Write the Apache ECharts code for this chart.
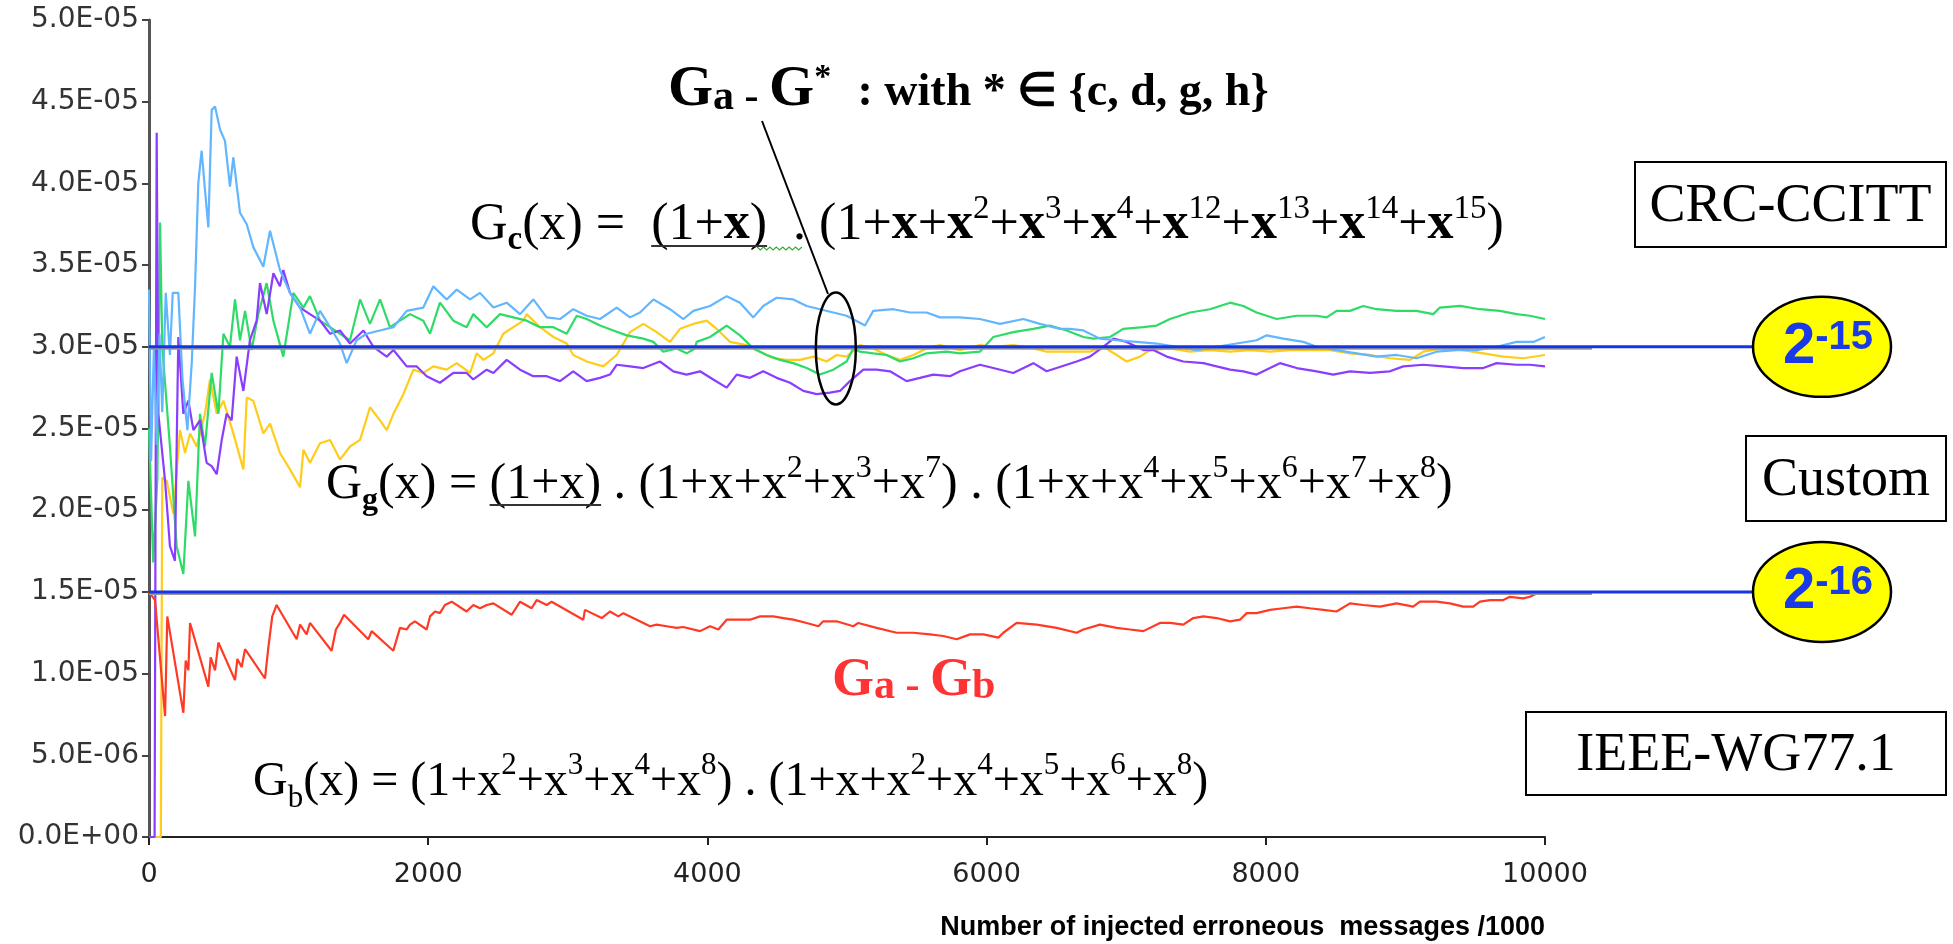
<!DOCTYPE html>
<html>
<head>
<meta charset="utf-8">
<script src="https://cdn.jsdelivr.net/npm/echarts@6/dist/echarts.min.js"></script>
<style>
  html, body { margin: 0; padding: 0; background: #fff; }
  #chart { width: 1953px; height: 944px; }
</style>
</head>
<body>
<div id="chart"></div>
<script>
// values are in units of 1E-05
var UNIT = 1e-5;
var xTicks = [0, 10000, 2000];   // min, max, interval
var yTicks = [0, 5, 0.5];

var refLevels = [3.0, 1.5];
var refLabels = ['-15', '-16'];

var blueData = [[0,3.35],[15,2.3],[35,3.0],[55,2.4],[75,3.08],[95,2.6],[120,3.33],[150,2.95],[170,3.33],[210,3.33],[240,2.8],[275,2.49],[306,2.9],[330,3.37],[353,4.0],[377,4.2],[401,3.96],[425,3.73],[449,4.45],[473,4.47],[509,4.33],[544,4.26],[580,3.98],[604,4.16],[652,3.82],[700,3.75],[747,3.61],[819,3.49],[867,3.71],[938,3.47],[1010,3.33],[1082,3.24],[1153,3.08],[1225,3.22],[1297,3.12],[1368,3.02],[1416,2.9],[1487,3.04],[1559,3.08],[1655,3.1],[1751,3.12],[1846,3.22],[1965,3.24],[2037,3.37],[2132,3.29],[2204,3.35],[2300,3.29],[2371,3.33],[2467,3.24],[2562,3.27],[2658,3.2],[2753,3.29],[2849,3.18],[2944,3.17],[3039,3.23],[3135,3.19],[3231,3.17],[3350,3.24],[3446,3.18],[3517,3.21],[3613,3.29],[3732,3.23],[3828,3.17],[3899,3.22],[4019,3.25],[4138,3.31],[4233,3.27],[4329,3.18],[4400,3.25],[4496,3.30],[4615,3.29],[4711,3.25],[4806,3.23],[4902,3.21],[4997,3.19],[5129,3.13],[5188,3.22],[5332,3.23],[5451,3.21],[5570,3.21],[5666,3.18],[5809,3.18],[5952,3.17],[6096,3.14],[6263,3.17],[6382,3.14],[6526,3.11],[6597,3.11],[6693,3.10],[6812,3.05],[6932,3.04],[7075,3.03],[7218,3.02],[7361,3.0],[7505,2.98],[7648,3.0],[7791,3.02],[7934,3.04],[8006,3.07],[8125,3.05],[8269,3.03],[8364,3.0],[8507,2.98],[8650,2.96],[8794,2.94],[8937,2.95],[9080,2.93],[9223,2.97],[9367,2.98],[9510,2.98],[9653,3.0],[9796,3.03],[9916,3.03],[10000,3.06]];

var greenData = [[0,2.5],[30,1.68],[60,2.2],[79,3.76],[95,3.0],[150,2.39],[198,1.78],[246,1.61],[282,2.18],[330,1.84],[365,2.59],[401,2.39],[449,2.84],[497,2.59],[533,3.08],[580,3.0],[616,3.29],[652,3.04],[688,3.22],[735,2.98],[783,3.2],[843,3.39],[891,3.16],[962,2.94],[1034,3.33],[1106,3.24],[1153,3.31],[1225,3.16],[1297,3.12],[1368,3.08],[1440,3.04],[1512,3.29],[1583,3.14],[1655,3.29],[1726,3.12],[1798,3.16],[1870,3.2],[1965,3.16],[2013,3.08],[2084,3.27],[2180,3.16],[2275,3.12],[2323,3.2],[2419,3.12],[2514,3.2],[2610,3.18],[2705,3.16],[2801,3.12],[2897,3.12],[2992,3.08],[3064,3.19],[3135,3.17],[3231,3.13],[3326,3.10],[3422,3.07],[3541,3.05],[3613,3.03],[3684,2.97],[3780,2.99],[3851,2.96],[3911,2.99],[3923,3.03],[4019,3.06],[4138,3.13],[4233,3.07],[4329,2.99],[4424,2.95],[4520,2.92],[4615,2.90],[4711,2.87],[4806,2.83],[4902,2.86],[4997,2.91],[5045,2.99],[5093,2.97],[5188,2.96],[5284,2.95],[5380,2.91],[5475,2.93],[5570,2.96],[5714,2.97],[5809,2.96],[5952,2.97],[6048,3.06],[6191,3.09],[6335,3.11],[6454,3.13],[6573,3.10],[6693,3.06],[6765,3.05],[6884,3.06],[6979,3.11],[7123,3.12],[7218,3.13],[7314,3.17],[7457,3.21],[7600,3.23],[7744,3.27],[7839,3.25],[7934,3.21],[8078,3.17],[8221,3.19],[8364,3.19],[8436,3.18],[8507,3.22],[8603,3.22],[8698,3.25],[8794,3.23],[8937,3.22],[9080,3.22],[9200,3.2],[9247,3.24],[9391,3.25],[9534,3.23],[9677,3.22],[9796,3.2],[9892,3.19],[10000,3.17]];

var yellowData = [[0,0],[85,0],[95,2.2],[127,2.18],[174,1.98],[222,2.49],[258,2.35],[294,2.47],[342,2.39],[401,2.59],[437,2.8],[485,2.59],[533,2.67],[604,2.47],[676,2.25],[700,2.69],[747,2.67],[819,2.47],[867,2.53],[938,2.35],[1010,2.25],[1082,2.14],[1106,2.37],[1153,2.29],[1225,2.41],[1297,2.43],[1368,2.31],[1440,2.39],[1512,2.43],[1583,2.63],[1655,2.55],[1703,2.49],[1751,2.59],[1822,2.71],[1894,2.86],[1965,2.84],[2037,2.88],[2132,2.86],[2204,2.9],[2300,2.84],[2347,2.96],[2395,2.92],[2467,2.96],[2538,3.08],[2610,3.12],[2682,3.16],[2705,3.2],[2801,3.12],[2897,3.06],[2992,3.02],[3039,2.95],[3135,2.91],[3254,2.88],[3350,2.95],[3446,3.09],[3541,3.14],[3637,3.09],[3732,3.03],[3804,3.11],[3899,3.14],[3995,3.16],[4066,3.11],[4162,3.03],[4281,3.01],[4377,2.97],[4472,2.93],[4568,2.92],[4663,2.92],[4759,2.94],[4854,2.91],[4926,2.95],[4997,2.94],[5093,3.01],[5188,2.99],[5284,2.95],[5380,2.92],[5475,2.95],[5570,2.99],[5666,3.01],[5809,2.98],[5952,3.01],[6048,3.0],[6191,3.01],[6335,2.99],[6430,2.97],[6597,2.97],[6740,2.97],[6836,3.0],[6932,2.95],[7003,2.91],[7099,2.94],[7170,2.98],[7314,2.99],[7457,2.97],[7600,2.98],[7744,2.97],[7886,2.98],[8030,2.97],[8173,2.98],[8316,2.98],[8460,2.98],[8603,2.96],[8746,2.95],[8889,2.93],[9033,2.92],[9128,2.97],[9271,2.99],[9414,2.98],[9558,2.96],[9701,2.94],[9844,2.93],[10000,2.95]];

var purpleData = [[0,0],[40,0],[55,4.31],[67,2.59],[115,2.18],[150,1.78],[186,1.69],[210,3.06],[246,2.59],[282,2.67],[318,2.49],[365,2.55],[413,2.29],[449,2.27],[485,2.22],[521,2.43],[556,2.59],[592,2.55],[628,2.94],[676,2.73],[723,3.04],[771,3.16],[795,3.39],[843,3.2],[891,3.45],[938,3.37],[962,3.47],[1010,3.33],[1082,3.24],[1153,3.2],[1225,3.16],[1297,3.08],[1368,3.1],[1440,3.02],[1536,3.1],[1607,3.0],[1703,2.94],[1751,2.98],[1846,2.88],[1918,2.88],[1989,2.82],[2084,2.78],[2180,2.84],[2275,2.84],[2323,2.8],[2419,2.86],[2467,2.84],[2562,2.92],[2658,2.86],[2753,2.82],[2849,2.82],[2944,2.79],[3039,2.85],[3135,2.79],[3231,2.81],[3302,2.83],[3350,2.89],[3446,2.88],[3541,2.87],[3660,2.91],[3756,2.85],[3851,2.83],[3947,2.85],[4042,2.80],[4138,2.75],[4210,2.83],[4305,2.81],[4400,2.85],[4496,2.81],[4592,2.78],[4687,2.73],[4783,2.71],[4878,2.72],[4950,2.73],[5021,2.79],[5117,2.86],[5212,2.86],[5308,2.85],[5427,2.79],[5523,2.81],[5618,2.83],[5738,2.82],[5809,2.85],[5952,2.89],[6048,2.87],[6191,2.84],[6335,2.90],[6430,2.85],[6645,2.91],[6740,2.94],[6836,3.0],[6908,3.05],[7003,3.03],[7123,2.98],[7194,2.98],[7290,2.94],[7409,2.91],[7553,2.9],[7648,2.88],[7744,2.86],[7839,2.85],[7934,2.83],[8030,2.87],[8101,2.9],[8221,2.87],[8364,2.85],[8483,2.83],[8603,2.85],[8746,2.84],[8889,2.85],[8985,2.88],[9128,2.89],[9271,2.88],[9414,2.87],[9558,2.87],[9653,2.9],[9796,2.89],[9892,2.89],[10000,2.88]];

var redData = [[0,1.5],[43,1.45],[115,0.74],[131,1.35],[246,0.76],[263,1.08],[282,1.02],[294,1.31],[425,0.92],[442,1.1],[473,1.02],[497,1.19],[616,0.96],[633,1.09],[664,1.04],[688,1.15],[831,0.97],[855,1.16],[883,1.35],[914,1.42],[1058,1.21],[1082,1.30],[1129,1.24],[1153,1.31],[1308,1.14],[1339,1.27],[1368,1.31],[1397,1.36],[1571,1.21],[1595,1.26],[1750,1.14],[1798,1.28],[1846,1.27],[1870,1.30],[1905,1.32],[1989,1.27],[2013,1.35],[2049,1.38],[2084,1.37],[2120,1.42],[2168,1.44],[2275,1.38],[2323,1.42],[2371,1.40],[2419,1.42],[2467,1.43],[2598,1.36],[2658,1.44],[2741,1.40],[2777,1.45],[2849,1.42],[2884,1.44],[3111,1.33],[3123,1.39],[3243,1.34],[3302,1.38],[3362,1.35],[3398,1.37],[3589,1.29],[3636,1.30],[3708,1.29],[3780,1.28],[3827,1.285],[3947,1.26],[4019,1.29],[4078,1.27],[4138,1.33],[4233,1.33],[4305,1.33],[4377,1.35],[4472,1.35],[4544,1.34],[4615,1.33],[4711,1.31],[4795,1.29],[4830,1.32],[4926,1.32],[5045,1.29],[5081,1.31],[5212,1.28],[5356,1.25],[5475,1.25],[5594,1.24],[5690,1.23],[5786,1.21],[5881,1.24],[5977,1.24],[6084,1.22],[6120,1.25],[6215,1.31],[6359,1.30],[6502,1.28],[6645,1.25],[6693,1.27],[6812,1.30],[6932,1.28],[7027,1.27],[7123,1.26],[7242,1.31],[7314,1.31],[7409,1.30],[7481,1.34],[7553,1.35],[7648,1.34],[7744,1.32],[7815,1.33],[7863,1.37],[7934,1.37],[8030,1.39],[8125,1.40],[8221,1.41],[8316,1.40],[8412,1.39],[8507,1.38],[8603,1.43],[8698,1.42],[8818,1.41],[8937,1.43],[9056,1.41],[9104,1.44],[9223,1.44],[9319,1.43],[9414,1.41],[9486,1.41],[9534,1.44],[9606,1.45],[9701,1.45],[9749,1.47],[9844,1.46],[9892,1.47],[9940,1.49],[10000,1.50]];

var seriesList = [
    {name: 'Ga - Gg', color: '#ffcc1a', data: yellowData},
    {name: 'Ga - Gd', color: '#2edb66', data: greenData},
    {name: 'Ga - Gh', color: '#8a3cff', data: purpleData},
    {name: 'Ga - Gc', color: '#62b6ff', data: blueData},
    {name: 'Ga - Gb', color: '#ff3a24', data: redData}
];

var SERIF = '"Liberation Serif", "Times New Roman", serif';
var SANS = '"Liberation Sans", Arial, sans-serif';

var fmtExp = function (v) {
    if (v === 0) return '0.0E+00';
    var s = (v * UNIT).toExponential(1).split('e');
    var n = parseInt(s[1], 10);
    return s[0] + 'E' + (n < 0 ? '-' : '+') + String(Math.abs(n)).padStart(2, '0');
};

var chart = echarts.init(document.getElementById('chart'));

chart.setOption({
    animation: false,
    backgroundColor: '#fff',
    grid: {left: 149, right: 408, top: 20, bottom: 107, containLabel: false, outerBoundsMode: 'none'},
    xAxis: {
        type: 'value',
        min: xTicks[0], max: xTicks[1], interval: xTicks[2],
        name: 'Number of injected erroneous  messages /1000',
        nameLocation: 'end',
        nameGap: 0,
        nameMoveOverlap: false,
        nameTextStyle: {
            fontFamily: SANS, fontWeight: 'bold', fontSize: 27, color: '#000',
            align: 'right', verticalAlign: 'top', padding: [77, 0, 0, 0]
        },
        axisLine: {show: true, onZero: false, lineStyle: {color: '#222', width: 2}},
        axisTick: {show: true, length: 8, lineStyle: {color: '#222', width: 2}},
        splitLine: {show: false},
        axisLabel: {
            formatter: function (v) { return String(v); },
            fontFamily: 'DejaVu Sans', fontSize: 27, color: '#222', margin: 24
        }
    },
    yAxis: {
        type: 'value',
        min: yTicks[0], max: yTicks[1], interval: yTicks[2],
        axisLine: {show: true, onZero: false, lineStyle: {color: '#555', width: 3}},
        axisTick: {show: true, length: 7, lineStyle: {color: '#444', width: 2}},
        splitLine: {show: false},
        axisLabel: {formatter: fmtExp, fontFamily: 'DejaVu Sans', fontSize: 28, color: '#333', margin: 10}
    },
    series: seriesList.map(function (s) {
        return {
            name: s.name,
            type: 'line',
            data: s.data,
            showSymbol: false,
            symbol: 'none',
            lineStyle: {color: s.color, width: 2.2},
            itemStyle: {color: s.color}
        };
    })
});

// annotations, placed after the axes exist
var gp = function (x, v) { return chart.convertToPixel({gridIndex: 0}, [x, v]); };
var ctx = document.createElement('canvas').getContext('2d');
var tw = function (font, s) { ctx.font = font; return ctx.measureText(s).width; };

var formulaRich = function (size) {
    var sub = Math.round(size * 0.64);
    return {
        n: {fontFamily: SERIF, fontSize: size, lineHeight: 64, fill: '#000'},
        b: {fontFamily: SERIF, fontSize: size, fontWeight: 'bold', lineHeight: 64, fill: '#000'},
        sp: {fontFamily: SERIF, fontSize: sub, verticalAlign: 'top', lineHeight: sub + 16, fill: '#000'},
        sb: {fontFamily: SERIF, fontSize: sub, verticalAlign: 'bottom', lineHeight: sub, fill: '#000'},
        sbb: {fontFamily: SERIF, fontSize: sub, fontWeight: 'bold', verticalAlign: 'bottom', lineHeight: sub, fill: '#000'}
    };
};
var terms = function (exps, boldX) {
    return exps.map(function (e) {
        return (boldX ? '{n|+}{b|x}' : '{n|+x}') + '{sp|' + e + '}';
    }).join('');
};

var gcText = '{n|G}{sbb|c}{n|(x) =  (1+}{b|x}{n|)  . (1+}{b|x}' + terms([2, 3, 4, 12, 13, 14, 15], true) + '{n|)}';
var ggText = '{n|G}{sbb|g}{n|(x) = (1+x) . (1+x}' + terms([2, 3, 7]) + '{n|) . (1+x}' + terms([4, 5, 6, 7, 8]) + '{n|)}';
var gbText = '{n|G}{sb|b}{n|(x) = (1}' + terms([2, 3, 4, 8]) + '{n|) . (1+x}' + terms([2, 4, 5, 6, 8]) + '{n|)}';

var ser = function (w, size) { return (w ? 'bold ' : '') + size + 'px ' + SERIF; };

// underline positions measured from the rendered fonts
var gcX = 470, gcSize = 52;
var gcU0 = gcX + tw(ser(false, gcSize), 'G') + tw(ser(true, 33), 'c') + tw(ser(false, gcSize), '(x) =  ');
var gcU1 = gcU0 + tw(ser(false, gcSize), '(1+') + tw(ser(true, gcSize), 'x') + tw(ser(false, gcSize), ')');
var ggX = 326, ggSize = 50;
var ggU0 = ggX + tw(ser(false, ggSize), 'G') + tw(ser(true, 32), 'g') + tw(ser(false, ggSize), '(x) = ');
var ggU1 = ggU0 + tw(ser(false, ggSize), '(1+x)');

var lvY = refLevels.map(function (v) { return gp(xTicks[0], v)[1]; });
var x0 = gp(xTicks[0], 0)[0];
var circ = gp(4920, 2.99);
var BLUE = '#1a3ae6';
var RED = '#ff3333';

var graphics = [];
lvY.forEach(function (y, i) {
    graphics.push({type: 'line', z: 50, shape: {x1: x0, y1: y + 2, x2: 1592, y2: y + 2}, style: {stroke: '#999', lineWidth: 2}});
    graphics.push({type: 'line', z: 51, shape: {x1: x0, y1: y, x2: 1754, y2: y}, style: {stroke: '#1634e6', lineWidth: 3}});
    graphics.push({type: 'ellipse', z: 52, shape: {cx: 1822, cy: y, rx: 69, ry: 50}, style: {fill: '#ffff00', stroke: '#000', lineWidth: 2.5}});
    graphics.push({
        type: 'text', z: 53, x: 1828, y: y,
        style: {
            text: '{b|2}{s|' + refLabels[i] + '}', align: 'center', verticalAlign: 'middle', fill: BLUE,
            rich: {
                b: {fontFamily: SANS, fontWeight: 'bold', fontSize: 58, fill: BLUE, lineHeight: 58},
                s: {fontFamily: SANS, fontWeight: 'bold', fontSize: 40, fill: BLUE, verticalAlign: 'top', lineHeight: 40}
            }
        }
    });
});

// boxes on the right
[
    {x: 1635, y: 162, w: 311, h: 85, t: 'CRC-CCITT'},
    {x: 1746, y: 436, w: 200, h: 85, t: 'Custom'},
    {x: 1526, y: 712, w: 420, h: 83, t: 'IEEE-WG77.1'}
].forEach(function (b) {
    graphics.push({type: 'rect', z: 60, shape: {x: b.x, y: b.y, width: b.w, height: b.h}, style: {fill: '#fff', stroke: '#000', lineWidth: 2}});
    graphics.push({type: 'text', z: 61, x: b.x + b.w / 2, y: b.y + b.h / 2 + 2,
        style: {text: b.t, font: '54px ' + SERIF, fill: '#000', align: 'center', verticalAlign: 'middle'}});
});

// formulas
graphics.push({type: 'text', z: 70, x: gcX, y: 193, style: {text: gcText, rich: formulaRich(gcSize), verticalAlign: 'top'}});
graphics.push({type: 'text', z: 70, x: ggX, y: 453, style: {text: ggText, rich: formulaRich(ggSize), verticalAlign: 'top'}});
graphics.push({type: 'text', z: 70, x: 253, y: 750, style: {text: gbText, rich: formulaRich(48), verticalAlign: 'top'}});
graphics.push({type: 'line', z: 71, shape: {x1: gcU0, y1: 246, x2: gcU1, y2: 246}, style: {stroke: '#333', lineWidth: 2}});
graphics.push({type: 'line', z: 71, shape: {x1: ggU0, y1: 505, x2: ggU1, y2: 505}, style: {stroke: '#333', lineWidth: 2}});
var zig = [];
for (var k = 0; k <= 14; k++) zig.push([gcU1 - 10 + k * 3.2, 248 + (k % 2 ? 2 : -1)]);
graphics.push({type: 'polyline', z: 71, shape: {points: zig}, style: {stroke: '#3aa83a', lineWidth: 1.2, fill: null}});

// G_a - G_* callout
graphics.push({
    type: 'text', z: 70, x: 668, y: 61,
    style: {
        text: '{G|G}{a|a - }{G|G}{st|*}', verticalAlign: 'top',
        rich: {
            G: {fontFamily: SERIF, fontWeight: 'bold', fontSize: 58, verticalAlign: 'bottom', lineHeight: 58, fill: '#000'},
            a: {fontFamily: SERIF, fontWeight: 'bold', fontSize: 42, verticalAlign: 'bottom', lineHeight: 42, fill: '#000'},
            st: {fontFamily: SERIF, fontWeight: 'bold', fontSize: 34, verticalAlign: 'top', lineHeight: 44, fill: '#000'}
        }
    }
});
graphics.push({type: 'text', z: 70, x: 846, y: 116,
    style: {text: ' : with * \u2208 {c, d, g, h}', font: 'bold 46px ' + SERIF, fill: '#000', align: 'left', verticalAlign: 'bottom'}});
graphics.push({type: 'line', z: 70, shape: {x1: 762, y1: 121, x2: 828, y2: 294}, style: {stroke: '#000', lineWidth: 2}});
graphics.push({type: 'ellipse', z: 70, shape: {cx: circ[0], cy: circ[1], rx: 20, ry: 56}, style: {fill: null, stroke: '#000', lineWidth: 2.5}});

// G_a - G_b label
graphics.push({
    type: 'text', z: 70, x: 832, y: 654,
    style: {
        text: '{G|G}{a|a - }{G|G}{a|b}', verticalAlign: 'top', fill: RED,
        rich: {
            G: {fontFamily: SERIF, fontWeight: 'bold', fontSize: 54, verticalAlign: 'bottom', lineHeight: 54, fill: RED},
            a: {fontFamily: SERIF, fontWeight: 'bold', fontSize: 42, verticalAlign: 'bottom', lineHeight: 42, fill: RED}
        }
    }
});

chart.setOption({graphic: graphics});
</script>
</body>
</html>
